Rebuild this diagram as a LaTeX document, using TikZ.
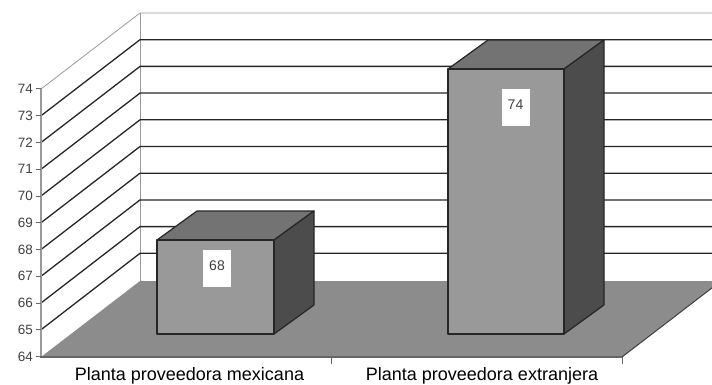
\documentclass[tikz,border=0pt]{standalone}
\usepackage{fontspec}
\setmainfont{Liberation Sans}
\begin{document}
\begin{tikzpicture}[x=1pt,y=-1pt,
  grid/.style={draw=black!85,line width=1.3pt},
  edge/.style={draw=black!40,line width=0.8pt},
  barline/.style={draw=black!85,line width=1.2pt,line join=round},
  tickmark/.style={draw=black!60,line width=1pt},
  ticklbl/.style={font=\fontsize{13.5}{13.5}\selectfont,anchor=east,inner sep=0pt,text=black!75},
  cat/.style={font=\fontsize{18}{18}\selectfont,anchor=base,inner sep=0pt},
  val/.style={fill=white,anchor=north,minimum width=28pt,inner xsep=2pt,inner ysep=4pt,
    text height=16.5pt,text depth=12.5pt,font=\fontsize{14}{14}\selectfont,text=black!75}]
\useasboundingbox (0,0) rectangle (712,385);
\clip (0,0) rectangle (712,385);
% floor
\fill[black!45] (41,357) -- (622,357) -- (721,281) -- (140,281) -- cycle;
\draw[black!75,line width=1pt] (622,357) -- (721,281);
% back wall and side wall edges
\draw[edge] (140,13) -- (140,281);
\draw[edge] (41,89) -- (140,13) -- (712,13);
% gridlines
\foreach \v in {1,...,9}{
  \pgfmathsetmacro{\fy}{356.5-\v*26.75}
  \pgfmathsetmacro{\by}{280-\v*26.7}
  \draw[grid] (41,\fy) -- (140,\by) -- (712,\by);
}
% front axis
\draw[black!40,line width=2.2pt] (41,88) -- (41,357);
\foreach \v in {0,...,10}{
  \pgfmathsetmacro{\fy}{356.5-\v*26.75}
  \pgfmathtruncatemacro{\lab}{64+\v}
  \draw[tickmark] (36,\fy) -- (41,\fy);
  \node[ticklbl] (t\lab) at (33,\fy) {\lab};
}
% floor front edge and category ticks
\draw[black!60,line width=2.5pt] (40,357) -- (622,357);
\draw[tickmark] (331,357) -- (331,364);
\draw[tickmark] (622,357) -- (622,364);
% bar 1
\filldraw[barline,fill=black!55] (157,240) -- (197,211) -- (314,211) -- (274,240) -- cycle;
\filldraw[barline,fill=black!70] (274,240) -- (314,211) -- (314,305) -- (274,334) -- cycle;
\filldraw[barline,fill=black!40] (157,240) rectangle (274,334);
\node[val] (v1) at (217,250) {68};
% bar 2
\filldraw[barline,fill=black!55] (448,69) -- (488,40) -- (604,40) -- (564,69) -- cycle;
\filldraw[barline,fill=black!70] (564,69) -- (604,40) -- (604,305) -- (564,334) -- cycle;
\filldraw[barline,fill=black!40] (448,69) rectangle (564,334);
\node[val] (v2) at (515.5,89) {74};
% category labels
\node[cat] (c1) at (189.5,380) {Planta proveedora mexicana};
\node[cat] (c2) at (482,380) {Planta proveedora extranjera};
\end{tikzpicture}
\end{document}
